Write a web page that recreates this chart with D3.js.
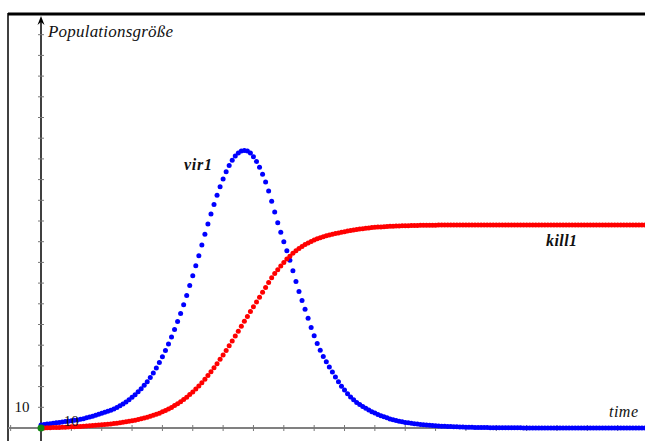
<html lang="de">
<head>
<meta charset="utf-8">
<title>vir1 / kill1</title>
<style>
  body { margin: 0; background: white; }
  svg { display: block; background: white; }
  .lbl { font-family: "Liberation Serif", "DejaVu Serif", serif; font-style: italic; fill: #111; }
  .num { font-family: "Liberation Serif", "DejaVu Serif", serif; font-size: 15px; fill: #111; }
  .tick line { stroke: #777; stroke-width: 1; }
</style>
</head>
<body>
<script src="https://cdnjs.cloudflare.com/ajax/libs/d3/7.8.5/d3.min.js"></script>
<script>
// time steps are the array index (0 .. 199)
var vir1 = [
  1.5,1.7,1.9,2.1,2.3,2.5,2.7,2.9,3.1,3.3,
  3.5,3.7,3.9,4.2,4.5,4.9,5.3,5.7,6.1,6.6,
  7.1,7.6,8.1,8.6,9.2,9.9,10.7,11.6,12.6,13.6,
  14.8,16.1,17.5,19.0,20.6,22.4,24.4,26.6,29.0,31.6,
  34.4,37.4,40.6,44.0,47.6,51.4,55.3,59.5,64.0,68.8,
  73.6,78.4,83.2,88.4,93.6,98.6,103.4,108.0,112.4,116.6,
  120.3,123.8,126.8,129.4,131.4,132.9,133.8,134.1,133.8,132.8,
  131.0,128.8,126.0,122.6,118.8,114.5,109.6,104.4,99.2,94.6,
  90.0,85.6,81.0,76.0,70.8,66.0,61.6,57.4,53.0,48.5,
  44.6,40.8,37.6,34.6,32.0,29.5,27.0,24.6,22.3,20.2,
  18.3,16.6,15.0,13.6,12.3,11.4,10.4,9.5,8.7,7.9,
  7.2,6.5,5.9,5.4,4.9,4.4,4.0,3.6,3.3,3.0,
  2.7,2.5,2.3,2.1,1.9,1.7,1.6,1.4,1.3,1.2,
  1.1,1.0,0.9,0.8,0.75,0.7,0.6,0.55,0.5,0.45,
  0.4,0.37,0.33,0.3,0.27,0.25,0.22,0.2,0.18,0.16,
  0.15,0.13,0.12,0.11,0.1,0.09,0.08,0.07,0.07,0.06,
  0.05,0.05,0.04,0.04,0.04,0.03,0.03,0.03,0.02,0.02,
  0.02,0.02,0.02,0.01,0.01,0.01,0.01,0.01,0.01,0.01,
  0.01,0.01,0.01,0.01,0.01,0.01,0.01,0.01,0.01,0.01,
  0,0,0,0,0,0,0,0,0,0
];

var kill1 = [
  0,0.05,0.1,0.15,0.2,0.25,0.3,0.36,0.42,0.48,
  0.55,0.62,0.7,0.78,0.87,0.96,1.06,1.17,1.29,1.41,
  1.54,1.68,1.83,1.99,2.16,2.34,2.54,2.75,2.98,3.22,
  3.49,3.78,4.09,4.43,4.8,5.2,5.63,6.1,6.62,7.18,
  7.79,8.46,9.18,9.96,10.81,11.72,12.71,13.77,14.91,16.13,
  17.44,18.84,20.32,21.89,23.56,25.32,27.16,29.08,31.08,33.16,
  35.3,37.5,39.76,42.06,44.4,46.77,49.15,51.54,53.92,56.28,
  58.61,60.9,63.14,65.6,67.9,70.3,72.6,74.6,76.5,78.3,
  80.0,81.6,83.0,84.4,85.6,86.7,87.7,88.6,89.4,90.1,
  90.8,91.4,91.9,92.4,92.85,93.25,93.6,93.95,94.25,94.55,
  94.85,95.15,95.4,95.65,95.9,96.1,96.3,96.5,96.65,96.8,
  96.93,97.05,97.16,97.26,97.35,97.43,97.5,97.56,97.62,97.67,
  97.72,97.76,97.8,97.84,97.87,97.9,97.93,97.95,97.97,97.99,
  98.0,98.02,98.03,98.04,98.05,98.06,98.07,98.07,98.08,98.08,
  98.09,98.09,98.09,98.09,98.09,98.09,98.09,98.09,98.09,98.09,
  98.1,98.1,98.1,98.1,98.1,98.1,98.1,98.1,98.1,98.1,
  98.1,98.1,98.1,98.1,98.1,98.1,98.1,98.1,98.1,98.1,
  98.1,98.1,98.1,98.1,98.1,98.1,98.1,98.1,98.1,98.1,
  98.1,98.1,98.1,98.1,98.1,98.1,98.1,98.1,98.1,98.1,
  98.1,98.1,98.1,98.1,98.1,98.1,98.1,98.1,98.1,98.1
];

var xTicks = [-10,10,20,30,40,50,60,70,80,90,100,110,120,130,140,150,160,170,180,190];
var yTicks = [10,20,30,40,50,60,70,80,90,100,110,120,130,140,150,160,170,180,190];
var startPoint = [0, 0];

var W = 645, H = 441;
var frameLeft = 8, frameTop = 14;

var svg = d3.select("body").append("svg")
  .attr("width", W)
  .attr("height", H);

// 1 time unit ~ 3.035px, 10 population units ~ 20.7px
var x = d3.scaleLinear().domain([0, 199]).range([41, 645]);
var y = d3.scaleLinear().domain([0, 200]).range([428, 14]);

// frame
svg.append("line")
  .attr("x1", frameLeft).attr("x2", W)
  .attr("y1", frameTop).attr("y2", frameTop)
  .attr("stroke", "#000").attr("stroke-width", 3);
svg.append("line")
  .attr("x1", frameLeft).attr("x2", frameLeft)
  .attr("y1", frameTop - 1).attr("y2", H)
  .attr("stroke", "#000").attr("stroke-width", 1.5);

// x axis (grey) with small ticks crossing the line
svg.append("line")
  .attr("x1", frameLeft).attr("x2", W)
  .attr("y1", y(0)).attr("y2", y(0))
  .attr("stroke", "#808080").attr("stroke-width", 2);

svg.append("g").attr("class", "tick")
  .selectAll("line")
  .data(xTicks)
  .enter().append("line")
  .attr("x1", function(d) { return x(d); })
  .attr("x2", function(d) { return x(d); })
  .attr("y1", y(0) - 3)
  .attr("y2", y(0) + 3);

// y axis (black) with arrow
svg.append("line")
  .attr("x1", x(0)).attr("x2", x(0))
  .attr("y1", 19).attr("y2", H)
  .attr("stroke", "#000").attr("stroke-width", 1.5);
svg.append("path")
  .attr("d", "M" + x(0) + ",16 L" + (x(0) - 3.5) + ",25 L" + x(0) + ",22 L" + (x(0) + 3.5) + ",25 Z")
  .attr("fill", "#000");

svg.append("g").attr("class", "tick")
  .selectAll("line")
  .data(yTicks)
  .enter().append("line")
  .attr("x1", x(0) - 3)
  .attr("x2", x(0) + 3)
  .attr("y1", function(d) { return y(d); })
  .attr("y2", function(d) { return y(d); });

// data points
svg.append("g").selectAll("circle")
  .data(vir1)
  .enter().append("circle")
  .attr("cx", function(d, i) { return x(i); })
  .attr("cy", function(d) { return y(d); })
  .attr("r", 2.5)
  .attr("fill", "#0000ff");

svg.append("g").selectAll("circle")
  .data(kill1)
  .enter().append("circle")
  .attr("cx", function(d, i) { return x(i); })
  .attr("cy", function(d) { return y(d); })
  .attr("r", 2.5)
  .attr("fill", "#ff0000");

svg.append("circle")
  .attr("cx", x(startPoint[0]))
  .attr("cy", y(startPoint[1]))
  .attr("r", 3.5)
  .attr("fill", "#118811");

// scale numbers (drawn over the points)
svg.append("text").attr("class", "num")
  .attr("x", 22).attr("y", y(10) + 5)
  .attr("text-anchor", "middle")
  .text("10");
svg.append("text").attr("class", "num")
  .attr("x", x(10)).attr("y", y(0) - 2)
  .attr("text-anchor", "middle")
  .text("10");

// labels
svg.append("text").attr("class", "lbl")
  .attr("x", 48).attr("y", 37)
  .style("font-size", "17px")
  .attr("textLength", 125)
  .text("Populationsgröße");

svg.append("text").attr("class", "lbl")
  .attr("x", 184).attr("y", 170)
  .style("font-size", "16px").style("font-weight", "bold")
  .attr("textLength", 28)
  .text("vir1");

svg.append("text").attr("class", "lbl")
  .attr("x", 546).attr("y", 246)
  .style("font-size", "16px").style("font-weight", "bold")
  .attr("textLength", 31)
  .text("kill1");

svg.append("text").attr("class", "lbl")
  .attr("x", 609).attr("y", 417)
  .style("font-size", "16px")
  .attr("textLength", 29)
  .text("time");
</script>
</body>
</html>
